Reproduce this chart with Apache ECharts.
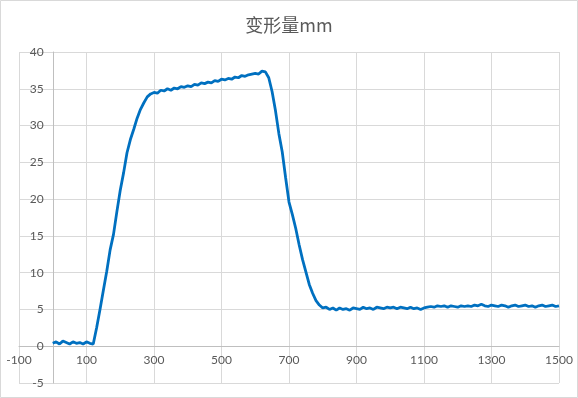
<!DOCTYPE html>
<html>
<head>
<meta charset="utf-8">
<script src="https://cdn.jsdelivr.net/npm/echarts@6/dist/echarts.min.js"></script>
<style>
html,body{margin:0;padding:0;background:#fff;}
#main{width:578px;height:398px;}
</style>
</head>
<body>
<div id="main"></div>
<script>
var chartTitle = '变形量mm';
// sample times start at 0 and step by 10
var t0 = 0;
var dt = 10;
var deform = [
	0.4,0.6,0.3,0.7,0.5,0.3,0.6,0.4,0.5,0.3,
	0.6,0.4,0.3,2.5,5.0,7.6,10.2,13.1,15.2,18.3,
	21.2,23.6,26.3,28.1,29.5,31.0,32.2,33.1,33.9,34.3,
	34.5,34.4,34.8,34.7,35.0,34.8,35.1,35.0,35.3,35.2,
	35.4,35.3,35.6,35.5,35.8,35.7,35.9,35.8,36.1,36.0,
	36.3,36.2,36.4,36.3,36.6,36.5,36.8,36.7,36.9,37.0,
	37.1,37.0,37.4,37.3,36.5,34.6,32.0,28.9,26.4,22.9,
	19.6,17.9,16.0,13.8,11.8,10.1,8.4,7.2,6.2,5.6,
	5.2,5.3,5.0,5.2,4.9,5.2,5.0,5.1,4.9,5.2,
	5.1,5.0,5.3,5.1,5.2,5.0,5.3,5.2,5.1,5.3,
	5.2,5.3,5.1,5.3,5.2,5.1,5.3,5.1,5.2,5.0,
	5.2,5.3,5.4,5.3,5.5,5.4,5.5,5.3,5.5,5.4,
	5.3,5.5,5.4,5.5,5.4,5.6,5.5,5.7,5.5,5.4,
	5.6,5.5,5.4,5.6,5.5,5.3,5.5,5.6,5.4,5.5,
	5.6,5.4,5.5,5.3,5.5,5.6,5.4,5.5,5.6,5.4,
	5.5
];
var xMin = -100, xMax = 1500, xStep = 100;
var yMin = -5, yMax = 40, yStep = 5;

var points = [];
for (var i = 0; i < deform.length; i++) {
	points.push([t0 + i * dt, deform[i]]);
}

// plot box, used to move both axes onto the zero lines
var gLeft = 19, gRight = 19, gTop = 52, gBottom = 15;
var plotW = 578 - gLeft - gRight;
var plotH = 398 - gTop - gBottom;
var yAxisShift = -(0 - xMin) / (xMax - xMin) * plotW;
var xAxisShift = -(0 - yMin) / (yMax - yMin) * plotH;

var font = 'Lato, "Noto Sans", sans-serif';
var myChart = echarts.init(document.getElementById('main'), null, {renderer: 'canvas'});

myChart.setOption({
	backgroundColor: '#fff',
	animation: false,
	title: {
		text: chartTitle,
		left: 'center',
		top: 11,
		textStyle: {
			fontFamily: '"Noto Sans CJK SC", sans-serif',
			fontSize: 18,
			fontWeight: 'normal',
			color: '#595959'
		}
	},
	graphic: [{
		type: 'rect',
		shape: {x: 0.5, y: 0.5, width: 577, height: 397},
		style: {fill: 'none', stroke: '#D9D9D9', lineWidth: 1},
		silent: true
	}],
	grid: {
		left: gLeft,
		right: gRight,
		top: gTop,
		bottom: gBottom,
		containLabel: false,
		outerBoundsMode: 'none'
	},
	xAxis: {
		type: 'value',
		min: xMin,
		max: xMax,
		interval: xStep,
		offset: xAxisShift,
		axisLine: {onZero: false, lineStyle: {color: '#BFBFBF', width: 1}},
		axisTick: {show: false},
		axisLabel: {
			margin: 8,
			color: '#595959',
			fontSize: 12,
			fontFamily: font,
			showMinLabel: true,
			showMaxLabel: true,
			formatter: function (v) {
				return ((v - xMin) % 200 === 0) ? String(v) : '';
			}
		},
		splitLine: {
			show: true,
			lineStyle: {color: ['#D9D9D9', 'rgba(0,0,0,0)'], width: 1}
		}
	},
	yAxis: {
		type: 'value',
		min: yMin,
		max: yMax,
		interval: yStep,
		offset: yAxisShift,
		axisLine: {show: true, onZero: false, lineStyle: {color: '#BFBFBF', width: 1}},
		axisTick: {show: false},
		axisLabel: {
			margin: 9,
			color: '#595959',
			fontSize: 12,
			fontFamily: font
		},
		splitLine: {show: true, lineStyle: {color: '#D9D9D9', width: 1}}
	},
	series: [{
		name: chartTitle,
		type: 'line',
		data: points,
		symbol: 'none',
		smooth: false,
		lineStyle: {color: '#0070C0', width: 2.8},
		itemStyle: {color: '#0070C0'}
	}]
});
</script>
</body>
</html>
